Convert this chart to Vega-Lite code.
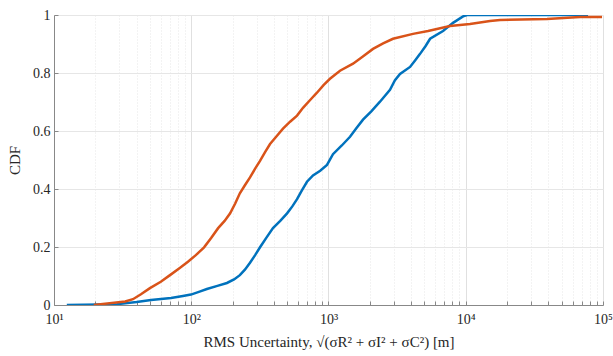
{
  "$schema": "https://vega.github.io/schema/vega-lite/v6.json",
  "width": 549,
  "height": 290,
  "autosize": {"type": "none"},
  "padding": {"left": 54, "top": 15, "right": 10, "bottom": 51},
  "background": "white",
  "config": {
    "view": {"stroke": null},
    "font": "Liberation Serif",
    "axis": {"labelFont": "Liberation Serif", "titleFont": "Liberation Serif", "labelColor": "#262626", "titleColor": "#262626", "titleFontWeight": "normal", "domainColor": "#888888", "tickColor": "#888888"}
  },
  "data": {"values": [
    {"series": "blue", "x": 12.4, "y": 0},
    {"series": "blue", "x": 28.8, "y": 0.003},
    {"series": "blue", "x": 40, "y": 0.01},
    {"series": "blue", "x": 50.9, "y": 0.017},
    {"series": "blue", "x": 71.2, "y": 0.024},
    {"series": "blue", "x": 87, "y": 0.031},
    {"series": "blue", "x": 99.5, "y": 0.036},
    {"series": "blue", "x": 115, "y": 0.046},
    {"series": "blue", "x": 130, "y": 0.055},
    {"series": "blue", "x": 155, "y": 0.066},
    {"series": "blue", "x": 182, "y": 0.076},
    {"series": "blue", "x": 205, "y": 0.088},
    {"series": "blue", "x": 226, "y": 0.103},
    {"series": "blue", "x": 246, "y": 0.122},
    {"series": "blue", "x": 268, "y": 0.146},
    {"series": "blue", "x": 292, "y": 0.172},
    {"series": "blue", "x": 317, "y": 0.199},
    {"series": "blue", "x": 355, "y": 0.234},
    {"series": "blue", "x": 394, "y": 0.265},
    {"series": "blue", "x": 445, "y": 0.29},
    {"series": "blue", "x": 499, "y": 0.316},
    {"series": "blue", "x": 545, "y": 0.34},
    {"series": "blue", "x": 590, "y": 0.365},
    {"series": "blue", "x": 640, "y": 0.395},
    {"series": "blue", "x": 697, "y": 0.425},
    {"series": "blue", "x": 771, "y": 0.447},
    {"series": "blue", "x": 870, "y": 0.463},
    {"series": "blue", "x": 975, "y": 0.483},
    {"series": "blue", "x": 1078, "y": 0.52},
    {"series": "blue", "x": 1250, "y": 0.55},
    {"series": "blue", "x": 1435, "y": 0.58},
    {"series": "blue", "x": 1600, "y": 0.61},
    {"series": "blue", "x": 1784, "y": 0.639},
    {"series": "blue", "x": 2050, "y": 0.668},
    {"series": "blue", "x": 2372, "y": 0.701},
    {"series": "blue", "x": 2806, "y": 0.742},
    {"series": "blue", "x": 3050, "y": 0.775},
    {"series": "blue", "x": 3320, "y": 0.797},
    {"series": "blue", "x": 3928, "y": 0.821},
    {"series": "blue", "x": 4300, "y": 0.845},
    {"series": "blue", "x": 4647, "y": 0.866},
    {"series": "blue", "x": 5100, "y": 0.893},
    {"series": "blue", "x": 5498, "y": 0.918},
    {"series": "blue", "x": 6829, "y": 0.945},
    {"series": "blue", "x": 8079, "y": 0.973},
    {"series": "blue", "x": 9558, "y": 0.995},
    {"series": "blue", "x": 10210, "y": 1.0},
    {"series": "blue", "x": 77800, "y": 1.0},
    {"series": "orange", "x": 19.5, "y": 0},
    {"series": "orange", "x": 27.4, "y": 0.008},
    {"series": "orange", "x": 33, "y": 0.012},
    {"series": "orange", "x": 37.6, "y": 0.02},
    {"series": "orange", "x": 43, "y": 0.037},
    {"series": "orange", "x": 50.0, "y": 0.058},
    {"series": "orange", "x": 60, "y": 0.08},
    {"series": "orange", "x": 70.0, "y": 0.103},
    {"series": "orange", "x": 82, "y": 0.127},
    {"series": "orange", "x": 94.6, "y": 0.149},
    {"series": "orange", "x": 108, "y": 0.172},
    {"series": "orange", "x": 124, "y": 0.199},
    {"series": "orange", "x": 140, "y": 0.232},
    {"series": "orange", "x": 157, "y": 0.265},
    {"series": "orange", "x": 175, "y": 0.29},
    {"series": "orange", "x": 192, "y": 0.316},
    {"series": "orange", "x": 209, "y": 0.35},
    {"series": "orange", "x": 226, "y": 0.385},
    {"series": "orange", "x": 246, "y": 0.413},
    {"series": "orange", "x": 268, "y": 0.44},
    {"series": "orange", "x": 292, "y": 0.47},
    {"series": "orange", "x": 317, "y": 0.497},
    {"series": "orange", "x": 345, "y": 0.527},
    {"series": "orange", "x": 375, "y": 0.555},
    {"series": "orange", "x": 420, "y": 0.583},
    {"series": "orange", "x": 466, "y": 0.608},
    {"series": "orange", "x": 525, "y": 0.632},
    {"series": "orange", "x": 590, "y": 0.653},
    {"series": "orange", "x": 652, "y": 0.68},
    {"series": "orange", "x": 735, "y": 0.707},
    {"series": "orange", "x": 824, "y": 0.732},
    {"series": "orange", "x": 920, "y": 0.758},
    {"series": "orange", "x": 1025, "y": 0.78},
    {"series": "orange", "x": 1213, "y": 0.808},
    {"series": "orange", "x": 1509, "y": 0.832},
    {"series": "orange", "x": 1780, "y": 0.857},
    {"series": "orange", "x": 2110, "y": 0.883},
    {"series": "orange", "x": 2500, "y": 0.902},
    {"series": "orange", "x": 2951, "y": 0.918},
    {"series": "orange", "x": 4127, "y": 0.935},
    {"series": "orange", "x": 5312, "y": 0.945},
    {"series": "orange", "x": 7674, "y": 0.962},
    {"series": "orange", "x": 10740, "y": 0.969},
    {"series": "orange", "x": 15030, "y": 0.979},
    {"series": "orange", "x": 17780, "y": 0.983},
    {"series": "orange", "x": 39090, "y": 0.986},
    {"series": "orange", "x": 67920, "y": 0.993},
    {"series": "orange", "x": 98400, "y": 0.993}
  ]},
  "mark": {"type": "line", "strokeWidth": 2.5, "clip": true},
  "encoding": {
    "x": {
      "field": "x", "type": "quantitative",
      "scale": {"type": "log", "domain": [10, 100000], "nice": false},
      "axis": {
        "title": "RMS Uncertainty, √(σR² + σI² + σC²) [m]",
        "titleFontSize": 15,
        "titlePadding": 8,
        "labelFontSize": 14,
        "values": [10,20,30,40,50,60,70,80,90,100,200,300,400,500,600,700,800,900,1000,2000,3000,4000,5000,6000,7000,8000,9000,10000,20000,30000,40000,50000,60000,70000,80000,90000,100000],
        "labelExpr": "datum.value == 10 ? '10¹' : datum.value == 100 ? '10²' : datum.value == 1000 ? '10³' : datum.value == 10000 ? '10⁴' : datum.value == 100000 ? '10⁵' : ''",
        "labelFlush": false,
        "labelPadding": 11,
        "tickSize": -4,
        "grid": true,
        "gridColor": "#dddddd",
        "gridDash": {"condition": {"test": "indexof([10,100,1000,10000,100000], datum.value) >= 0", "value": []}, "value": [1, 2]},
        "gridOpacity": {"condition": {"test": "indexof([10,100,1000,10000,100000], datum.value) >= 0", "value": 0.9}, "value": 0.7}
      }
    },
    "y": {
      "field": "y", "type": "quantitative",
      "scale": {"domain": [0, 1], "nice": false},
      "axis": {
        "title": "CDF",
        "titleFontSize": 15,
        "titlePadding": 10,
        "labelFontSize": 14,
        "format": "~g",
        "values": [0, 0.2, 0.4, 0.6, 0.8, 1],
        "labelPadding": 8,
        "tickSize": -4,
        "grid": true,
        "gridColor": "#e6e6e6"
      }
    },
    "color": {
      "field": "series", "type": "nominal",
      "scale": {"domain": ["blue", "orange"], "range": ["#0072BD", "#D95319"]},
      "legend": null
    }
  }
}
